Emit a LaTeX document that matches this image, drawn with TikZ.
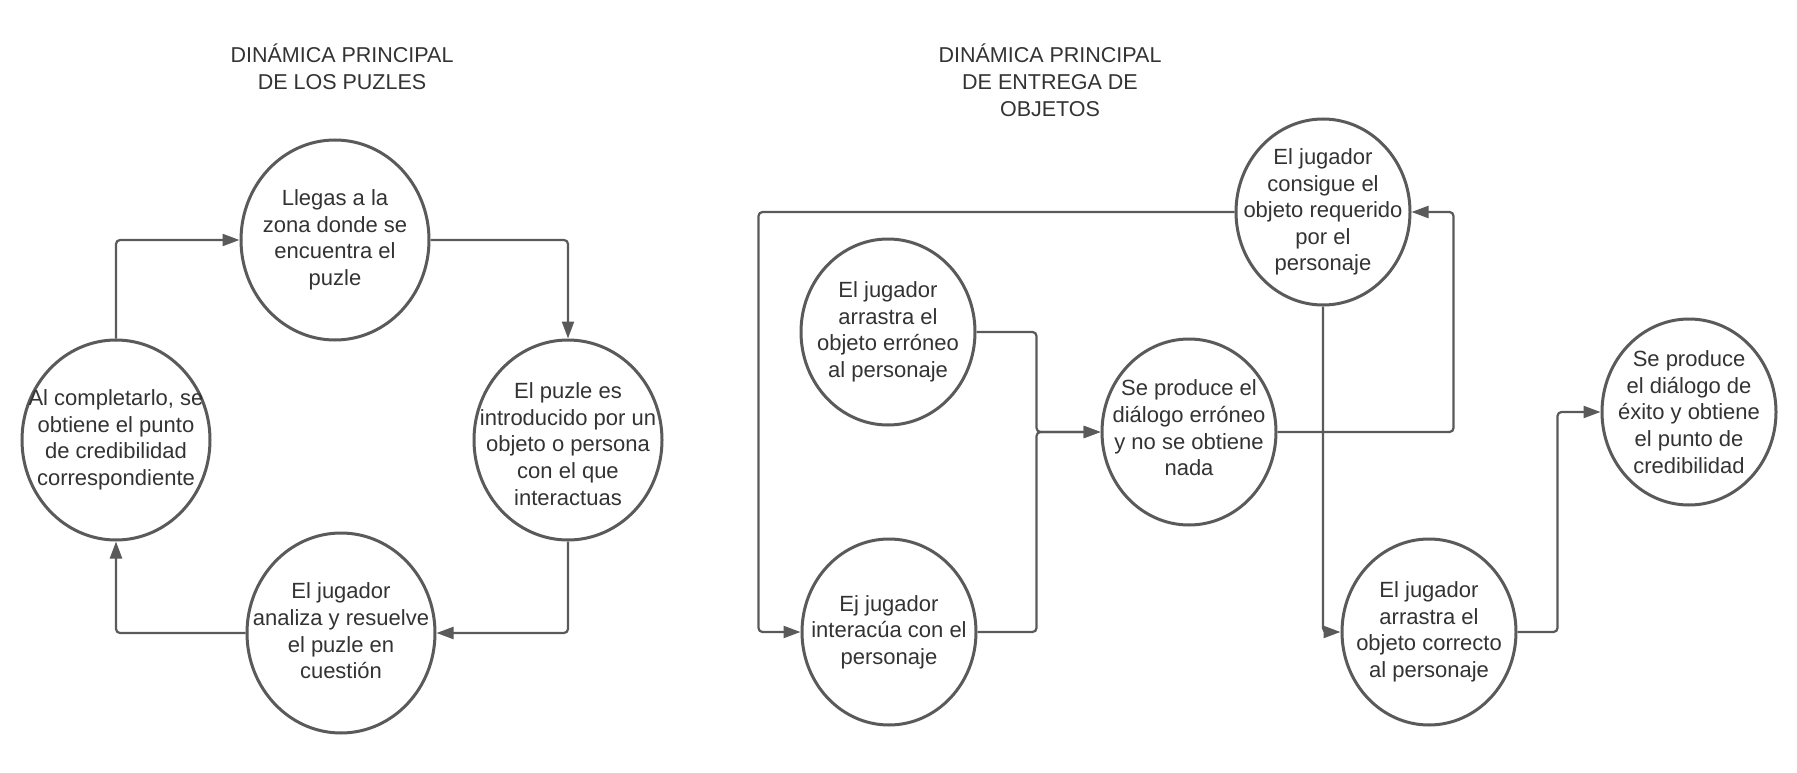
\documentclass[tikz,border=0pt]{standalone}
\usepackage{fontspec}
\setmainfont{Liberation Sans}
\usetikzlibrary{shapes.geometric,arrows.meta}
\definecolor{linegray}{HTML}{5A5A5A}
\definecolor{textgray}{HTML}{333333}
\tikzset{
  ell/.style={ellipse, draw=linegray, line width=3pt, inner sep=0pt, fill=white},
  small/.style={ell, minimum width=174pt, minimum height=186pt},
  big/.style={ell, minimum width=188pt, minimum height=200pt},
  txt/.style={align=center, text=textgray, inner sep=0pt, font=\fontsize{22}{26.6}\selectfont},
  ttl/.style={align=center, text=textgray, inner sep=0pt, font=\fontsize{21.5}{26.8}\selectfont},
  conn/.style={draw=linegray, line width=2.2pt, rounded corners=4pt, -{Triangle[length=17pt,width=12pt]}}
}
\begin{document}
\begin{tikzpicture}[x=1pt,y=-1pt]
\useasboundingbox[fill=white] (0,0) rectangle (1797,773);
% titles
\node[ttl] (T1) at (342,67) {DINÁMICA PRINCIPAL\\DE LOS PUZLES};
\node[ttl] (T2) at (1050,80) {DINÁMICA PRINCIPAL\\DE ENTREGA DE\\OBJETOS};
% left diagram
\node[big] (A) at (335,240) {};
\node[big] (B) at (568,440) {};
\node[big] (C) at (341,633) {};
\node[big] (D) at (116,440) {};
\node[txt] (At) at (A) {Llegas a la\\zona donde se\\encuentra el\\puzle};
\node[txt] (Bt) at ([yshift=-4pt]B.center) {El puzle es\\introducido por un\\objeto o persona\\con el que\\interactuas};
\node[txt] (Ct) at ([yshift=2pt]C.center) {El jugador\\analiza y resuelve\\el puzle en\\cuestión};
\node[txt] (Dt) at (D) {Al completarlo, se\\obtiene el punto\\de credibilidad\\correspondiente};
\draw[conn] (A.east) -| (B.north);
\draw[conn] (B.south) |- (C.east);
\draw[conn] (C.west) -| (D.south);
\draw[conn] (D.north) |- (A.west);
% right diagram
\node[small] (E) at (1323,212) {};
\node[small] (F) at (888,332) {};
\node[small] (G) at (1189,432) {};
\node[small] (H) at (889,632) {};
\node[small] (I) at (1429,632) {};
\node[small] (J) at (1689,412) {};
\node[txt] (Et) at (E) {El jugador\\consigue el\\objeto requerido\\por el\\personaje};
\node[txt] (Ft) at (F) {El jugador\\arrastra el\\objeto erróneo\\al personaje};
\node[txt] (Gt) at ([yshift=4pt]G.center) {Se produce el\\diálogo erróneo\\y no se obtiene\\nada};
\node[txt] (Ht) at (H) {Ej jugador\\interacúa con el\\personaje};
\node[txt] (It) at (I) {El jugador\\arrastra el\\objeto correcto\\al personaje};
\node[txt] (Jt) at (J) {Se produce\\el diálogo de\\éxito y obtiene\\el punto de\\credibilidad};
\draw[conn] (E.west) -| ([xshift=-42pt]H.west) -- (H.west);
\draw[conn] (F.east) -| ([xshift=-64pt]G.west) -- (G.west);
\draw[conn] (H.east) -| ([xshift=-64pt]G.west) -- (G.west);
\draw[conn] (G.east) -| ([xshift=42pt]E.east) -- (E.east);
\draw[conn] (E.south) |- (I.west);
\draw[conn] (I.east) -| ([xshift=-43pt]J.west) -- (J.west);
\end{tikzpicture}
\end{document}
